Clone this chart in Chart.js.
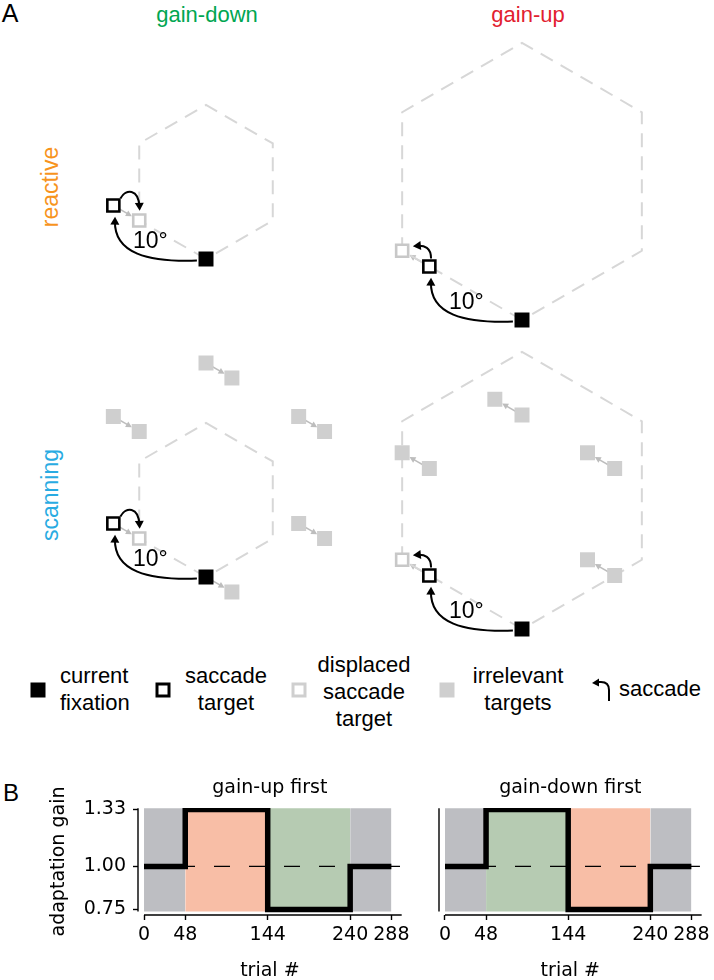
<!DOCTYPE html>
<html>
<head>
<meta charset="utf-8">
<script src="https://cdn.jsdelivr.net/npm/chart.js@4.4.1/dist/chart.umd.min.js"></script>
<style>
  html, body { margin: 0; padding: 0; background: #fff; }
  body { width: 714px; height: 980px; position: relative; overflow: hidden;
         font-family: "Liberation Sans", Arial, Helvetica, sans-serif; color: #000; }
  canvas { position: absolute; }
  .lbl { position: absolute; white-space: nowrap; line-height: 1; transform: translate(-50%, -50%); }
  .rot { transform: translate(-50%, -50%) rotate(-90deg); }
  .leg { position: absolute; font-size: 22px; line-height: 27px; white-space: nowrap; }
  .ctr { transform: translateX(-50%); text-align: center; }
  .sq { position: absolute; width: 15px; height: 15px; box-sizing: border-box; transform: translate(-50%, -50%); }
</style>
</head>
<body>

<div class="lbl" style="left:10px; top:13px; font-size:25px;">A</div>
<div class="lbl" style="left:207px; top:15px; font-size:22px; color:#00a651;">gain-down</div>
<div class="lbl" style="left:528px; top:15px; font-size:22px; color:#e2202f;">gain-up</div>
<div class="lbl rot" style="left:50px; top:187px; font-size:23px; color:#f7941d;">reactive</div>
<div class="lbl rot" style="left:50px; top:495px; font-size:23px; color:#29abe2;">scanning</div>

<canvas id="pDownReactive" width="297" height="300" style="left:60px; top:30px;"></canvas>
<canvas id="pUpReactive" width="357" height="300" style="left:357px; top:30px;"></canvas>
<canvas id="pDownScanning" width="297" height="310" style="left:60px; top:335px;"></canvas>
<canvas id="pUpScanning" width="357" height="310" style="left:357px; top:335px;"></canvas>

<!-- legend -->
<div class="sq" style="left:37.5px; top:689.5px; background:#000;"></div>
<div class="leg" style="left:60px; top:662px;">current<br>fixation</div>
<div class="sq" style="left:163px; top:689.5px; border:3px solid #000; background:#fff;"></div>
<div class="leg ctr" style="left:226px; top:662px;">saccade<br>target</div>
<div class="sq" style="left:298.5px; top:689.5px; border:3px solid #cfcfcf; background:#fff;"></div>
<div class="leg ctr" style="left:364px; top:651px;">displaced<br>saccade<br>target</div>
<div class="sq" style="left:447px; top:689.5px; background:#cfcfcf;"></div>
<div class="leg ctr" style="left:518px; top:662px;">irrelevant<br>targets</div>
<svg style="position:absolute; left:588px; top:677px;" width="28" height="26" viewBox="0 0 28 26">
  <path d="M21 24 L21 13 Q21 5 13 5 L10 5" fill="none" stroke="#000" stroke-width="2"/>
  <path d="M4 6 L11 1.5 L11 9.5 Z" fill="#000"/>
</svg>
<div class="leg" style="left:619px; top:675px;">saccade</div>

<div class="lbl" style="left:11px; top:793px; font-size:24px;">B</div>
<canvas id="gainUpFirst" width="378" height="215" style="left:36px; top:770px;"></canvas>
<canvas id="gainDownFirst" width="289" height="215" style="left:425px; top:770px;"></canvas>

<script>
// ---------- panel A: positions in degrees, current fixation at (0,0), up is positive ----------
const fixation = [{x: 0, y: 0}];
const saccadeTarget = [{x: -8.66, y: 5.0}];
const displacedDown = [{x: -6.24, y: 3.6}];
const displacedUp = [{x: -11.2, y: 6.47}];
const hexDown = [{x: 0, y: 0}, {x: -6.24, y: 3.6}, {x: -6.24, y: 10.8}, {x: 0, y: 14.4},
                 {x: 6.24, y: 10.8}, {x: 6.24, y: 3.6}, {x: 0, y: 0}];
const hexUp = [{x: 0, y: 0}, {x: -11.2, y: 6.47}, {x: -11.2, y: 19.42}, {x: 0, y: 25.9},
               {x: 11.2, y: 19.42}, {x: 11.2, y: 6.47}, {x: 0, y: 0}];
const irrelevant = [{x: 0, y: 20}, {x: -8.66, y: 15}, {x: 8.66, y: 15}, {x: 8.66, y: 5}];
const irrelevantDown = [{x: 2.42, y: 18.6}, {x: -6.24, y: 13.6}, {x: 11.08, y: 13.6}, {x: 11.08, y: 3.6}];
const fixationDown = [{x: 2.42, y: -1.4}];
const irrelevantUp = [{x: -2.54, y: 21.47}, {x: -11.2, y: 16.47}, {x: 6.12, y: 16.47}, {x: 6.12, y: 6.47}];
// saccade curves: start, control 1, control 2, end
const mainSaccade = [{x: -0.85, y: -0.15}, {x: -5.4, y: -0.3}, {x: -8.6, y: 0.5}, {x: -8.5, y: 3.95}];
const stepDown = [{x: -8.0, y: 5.65}, {x: -7.5, y: 6.6}, {x: -6.3, y: 6.6}, {x: -6.2, y: 4.5}];
const stepUp = [{x: -8.5, y: 5.75}, {x: -8.5, y: 6.75}, {x: -9.1, y: 7.0}, {x: -10.2, y: 6.9}];
const angleLabel = {x: -5.2, y: 1.6, text: '10°'};

// ---------- panel B ----------
const trialTicks = [0, 48, 144, 240, 288];
const blockStart = [0, 48, 144, 240];
const blockEnd = [48, 144, 240, 288];
const gainUpFirstGain = [1.00, 1.33, 0.75, 1.00];
const gainDownFirstGain = [1.00, 1.33, 0.75, 1.00];
const gainUpFirstBlocks = ['base', 'up', 'down', 'base'];
const gainDownFirstBlocks = ['base', 'down', 'up', 'base'];
const gainTicks = [0.75, 1.00, 1.33];
const refGain = 1.00;

const PX_PER_DEG = 10.7;
const GRAY_ARROW = '#bdbdbd';
const blockColor = {base: '#bdbec2', up: '#f8bea6', down: '#b6cbb2'};

function head(ctx, tx, ty, ux, uy, len, half) {
    ctx.beginPath();
    ctx.moveTo(tx, ty);
    ctx.lineTo(tx - ux * len - uy * half, ty - uy * len + ux * half);
    ctx.lineTo(tx - ux * len + uy * half, ty - uy * len - ux * half);
    ctx.closePath();
    ctx.fill();
}

function saccadePlugin(links, curves) {
    return {
        id: 'saccades',
        beforeDatasetsDraw(chart) {
            const {ctx, scales: {x, y}} = chart;
            ctx.save();
            ctx.strokeStyle = GRAY_ARROW;
            ctx.fillStyle = GRAY_ARROW;
            ctx.lineWidth = 1.5;
            links.forEach(([a, b]) => {
                const ax = x.getPixelForValue(a.x), ay = y.getPixelForValue(a.y);
                const bx = x.getPixelForValue(b.x), by = y.getPixelForValue(b.y);
                const len = Math.hypot(bx - ax, by - ay);
                const ux = (bx - ax) / len, uy = (by - ay) / len;
                const tx = bx - ux * 8.5, ty = by - uy * 8.5;
                ctx.beginPath();
                ctx.moveTo(ax, ay);
                ctx.lineTo(tx - ux * 4, ty - uy * 4);
                ctx.stroke();
                head(ctx, tx, ty, ux, uy, 6, 3.2);
            });
            ctx.restore();
        },
        afterDatasetsDraw(chart) {
            const {ctx, scales: {x, y}} = chart;
            ctx.save();
            ctx.strokeStyle = '#000';
            ctx.fillStyle = '#000';
            ctx.lineWidth = 2;
            curves.forEach(c => {
                const p = c.map(q => [x.getPixelForValue(q.x), y.getPixelForValue(q.y)]);
                const dx = p[3][0] - p[2][0], dy = p[3][1] - p[2][1];
                const l = Math.hypot(dx, dy);
                const ux = dx / l, uy = dy / l;
                ctx.beginPath();
                ctx.moveTo(p[0][0], p[0][1]);
                ctx.bezierCurveTo(p[1][0], p[1][1], p[2][0], p[2][1], p[3][0] - ux * 4, p[3][1] - uy * 4);
                ctx.stroke();
                head(ctx, p[3][0], p[3][1], ux, uy, 8, 4.5);
            });
            ctx.font = '23px "Liberation Sans", Arial, sans-serif';
            ctx.textAlign = 'center';
            ctx.textBaseline = 'middle';
            ctx.fillText(angleLabel.text, x.getPixelForValue(angleLabel.x), y.getPixelForValue(angleLabel.y));
            ctx.restore();
        }
    };
}

function squares(data, fill, stroke, r, bw, order) {
    return {data: data, pointStyle: 'rect', pointRadius: r, pointBackgroundColor: fill,
            pointBorderColor: stroke, pointBorderWidth: bw, order: order, clip: false};
}

function makePanel(id, fixPx, hex, displaced, irr, irrShift, links, curves) {
    const cv = document.getElementById(id);
    const w = cv.width, h = cv.height;
    const datasets = [
        {data: hex, showLine: true, borderColor: '#d7d7d7', borderWidth: 2, borderDash: [14, 9],
         pointRadius: 0, fill: false, order: 6, clip: false},
        squares(irrShift, '#cfcfcf', '#cfcfcf', 10.6, 0, 5),
        squares(irr, '#cfcfcf', '#cfcfcf', 10.6, 0, 5),
        squares(displaced, '#fff', '#c8c8c8', 8.5, 2.6, 4),
        squares(saccadeTarget, '#fff', '#000', 8.5, 2.6, 3),
        squares(fixation, '#000', '#000', 10.6, 0, 2)
    ];
    new Chart(cv, {
        type: 'scatter',
        data: {datasets: datasets},
        options: {
            responsive: false,
            animation: false,
            events: [],
            layout: {padding: 0, autoPadding: false},
            plugins: {legend: {display: false}, tooltip: {enabled: false}},
            scales: {
                x: {type: 'linear', display: false,
                    min: -fixPx[0] / PX_PER_DEG, max: (w - fixPx[0]) / PX_PER_DEG},
                y: {type: 'linear', display: false,
                    min: -(h - fixPx[1]) / PX_PER_DEG, max: fixPx[1] / PX_PER_DEG}
            }
        },
        plugins: [saccadePlugin(links, curves)]
    });
}

makePanel('pDownReactive', [146, 229], hexDown, displacedDown, [], [],
          [[saccadeTarget[0], displacedDown[0]]], [mainSaccade, stepDown]);
makePanel('pUpReactive', [165, 290], hexUp, displacedUp, [], [],
          [[saccadeTarget[0], displacedUp[0]]], [mainSaccade, stepUp]);
makePanel('pDownScanning', [146, 242], hexDown, displacedDown, irrelevant, irrelevantDown.concat(fixationDown),
          [[saccadeTarget[0], displacedDown[0]], [fixation[0], fixationDown[0]]]
              .concat(irrelevant.map((p, i) => [p, irrelevantDown[i]])),
          [mainSaccade, stepDown]);
makePanel('pUpScanning', [165, 294], hexUp, displacedUp, irrelevant, irrelevantUp,
          [[saccadeTarget[0], displacedUp[0]]].concat(irrelevant.map((p, i) => [p, irrelevantUp[i]])),
          [mainSaccade, stepUp]);

// ---------- panel B charts ----------
const B_FONT = {family: '"DejaVu Sans", sans-serif', size: 19, weight: 'normal'};
const Y_MIN = 0.7181, Y_MAX = 1.3387;      // axis limits
const SHADE = [0.7384, 1.337];             // shaded band / spine extent
const X_MIN = -7, X_MAX = 300;

const spinePlugin = {
    id: 'spines',
    afterDatasetsDraw(chart) {
        const {ctx, chartArea, scales: {x, y}} = chart;
        ctx.save();
        ctx.strokeStyle = '#000';
        ctx.lineWidth = 1.4;
        ctx.beginPath();
        ctx.moveTo(chartArea.left, y.getPixelForValue(SHADE[1]));
        ctx.lineTo(chartArea.left, y.getPixelForValue(SHADE[0]));
        ctx.moveTo(x.getPixelForValue(0), chartArea.bottom);
        ctx.lineTo(x.getPixelForValue(X_MAX), chartArea.bottom);
        ctx.stroke();
        ctx.restore();
    }
};

function makeGainChart(id, title, gains, blocks, showY, yWidth, padRight) {
    const steps = blockStart.map((t, i) => ({x: t, y: gains[i]}));
    steps.push({x: blockEnd[blockEnd.length - 1], y: gains[gains.length - 1]});
    const bands = blocks.map((b, i) => ({
        data: [{x: blockStart[i], y: SHADE[1]}, {x: blockEnd[i], y: SHADE[1]}],
        backgroundColor: blockColor[b], borderColor: 'rgba(0,0,0,0)', borderWidth: 0,
        pointRadius: 0, fill: {value: SHADE[0]}, order: 3
    }));
    new Chart(document.getElementById(id), {
        type: 'line',
        data: {
            datasets: bands.concat([
                {data: [{x: 0, y: refGain}, {x: 298, y: refGain}], borderColor: '#000', borderWidth: 1.3,
                 borderDash: [16, 19], pointRadius: 0, fill: false, order: 2},
                {data: steps, stepped: 'before', borderColor: '#000', borderWidth: 5.5,
                 borderJoinStyle: 'miter', borderCapStyle: 'butt', pointRadius: 0, fill: false, order: 1}
            ])
        },
        options: {
            responsive: false,
            animation: false,
            events: [],
            layout: {padding: {left: 0, right: padRight, top: 0, bottom: 0}, autoPadding: false},
            plugins: {
                legend: {display: false},
                tooltip: {enabled: false},
                title: {display: true, text: title, font: B_FONT, color: '#000', fullSize: false,
                        padding: {top: 6.6, bottom: 8.6}}
            },
            scales: {
                x: {
                    type: 'linear', min: X_MIN, max: X_MAX,
                    afterBuildTicks: s => { s.ticks = trialTicks.map(v => ({value: v})); },
                    afterFit: s => { s.height = 70; },
                    ticks: {font: B_FONT, color: '#000', padding: 4, autoSkip: false, maxRotation: 0},
                    grid: {drawOnChartArea: false, drawTicks: true, tickLength: 5, tickColor: '#000', tickWidth: 1.4},
                    border: {display: false},
                    title: {display: true, text: 'trial #', font: B_FONT, color: '#000', padding: {top: 0, bottom: 3}}
                },
                y: {
                    type: 'linear', min: Y_MIN, max: Y_MAX,
                    afterBuildTicks: s => { s.ticks = gainTicks.map(v => ({value: v})); },
                    afterFit: s => { s.width = yWidth; },
                    ticks: {display: showY, font: B_FONT, color: '#000', padding: 7, callback: v => v.toFixed(2)},
                    grid: {display: showY, drawOnChartArea: false, drawTicks: true, tickLength: 5,
                           tickColor: '#000', tickWidth: 1.4},
                    border: {display: false},
                    title: {display: showY, text: 'adaptation gain', font: B_FONT, color: '#000', padding: {top: 12, bottom: 0}}
                }
            }
        },
        plugins: [spinePlugin]
    });
}

makeGainChart('gainUpFirst', 'gain-up first', gainUpFirstGain, gainUpFirstBlocks, true, 102, 10);
makeGainChart('gainDownFirst', 'gain-down first', gainDownFirstGain, gainDownFirstBlocks, false, 14, 9);
</script>
</body>
</html>
